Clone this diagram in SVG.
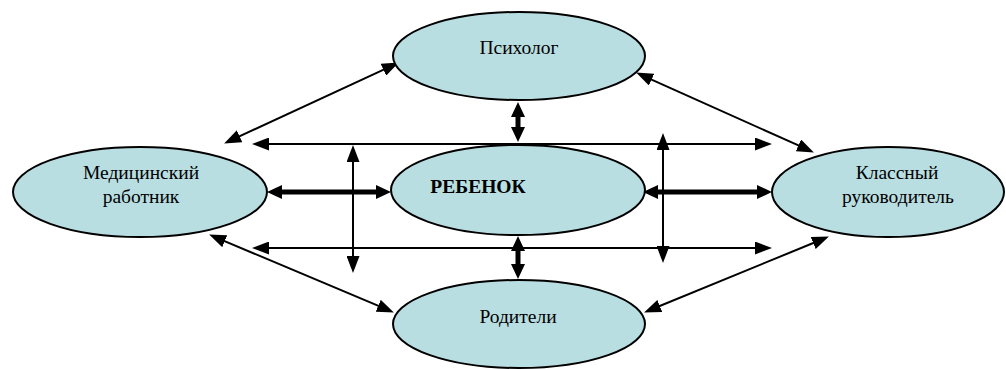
<svg xmlns="http://www.w3.org/2000/svg" width="1006" height="369" viewBox="0 0 1006 369">
<style>
.node ellipse{fill:#b8dee2;stroke:#000;stroke-width:2}
.lbl{font-family:"Liberation Serif","Times New Roman",serif;font-size:19.5px;fill:#000;text-anchor:middle}
.thin{stroke:#000;stroke-width:2;fill:none;marker-start:url(#ah);marker-end:url(#ah)}
.thick{stroke:#000;stroke-width:5;fill:none;marker-start:url(#ahb);marker-end:url(#ahb)}
</style>
<defs>
<marker id="ah" viewBox="0 0 17 13" refX="8" refY="6.5" markerWidth="17" markerHeight="13" markerUnits="userSpaceOnUse" orient="auto-start-reverse"><path d="M0,0 L17,6.5 L0,13 z" fill="#000"/></marker>
<marker id="ahb" viewBox="0 0 15 14" refX="6" refY="7" markerWidth="15" markerHeight="14" markerUnits="userSpaceOnUse" orient="auto-start-reverse"><path d="M0,0 L15,7 L0,14 z" fill="#000"/></marker>
</defs>
<rect width="1006" height="369" fill="#fff"/>
<g id="connectors">
<line class="thin" x1="390.7" y1="66.4" x2="232.3" y2="139.6"/>
<line class="thin" x1="644.3" y1="76.3" x2="805.7" y2="148.7"/>
<line class="thin" x1="217.4" y1="238.1" x2="385.6" y2="308.9"/>
<line class="thin" x1="652.4" y1="309.0" x2="820.6" y2="240.0"/>
<line class="thin" x1="261" y1="144" x2="763" y2="144"/>
<line class="thin" x1="261" y1="248" x2="763" y2="248"/>
<line class="thin" x1="353" y1="154" x2="353" y2="264"/>
<line class="thin" x1="663" y1="142" x2="663" y2="254"/>
<line class="thick" x1="276" y1="192" x2="382" y2="192"/>
<line class="thick" x1="652" y1="192" x2="763" y2="192"/>
<line class="thick" x1="518" y1="111" x2="518" y2="133"/>
<line class="thick" x1="518" y1="245" x2="518" y2="270"/>
</g>
<g id="psiholog" class="node"><ellipse cx="519" cy="56" rx="126" ry="44"/><text class="lbl" x="519" y="54">Психолог</text></g>
<g id="medik" class="node"><ellipse cx="140" cy="192" rx="127" ry="45"/><text class="lbl" x="141" y="179">Медицинский</text><text class="lbl" x="141" y="203">работник</text></g>
<g id="rebenok" class="node"><ellipse cx="518" cy="190" rx="127" ry="45"/><text class="lbl" x="478" y="193" font-weight="bold">РЕБЕНОК</text></g>
<g id="klassruk" class="node"><ellipse cx="888" cy="192" rx="116" ry="45"/><text class="lbl" x="897" y="179">Классный</text><text class="lbl" x="898" y="203">руководитель</text></g>
<g id="roditeli" class="node"><ellipse cx="519" cy="324" rx="126" ry="44"/><text class="lbl" x="518" y="323">Родители</text></g>
</svg>
